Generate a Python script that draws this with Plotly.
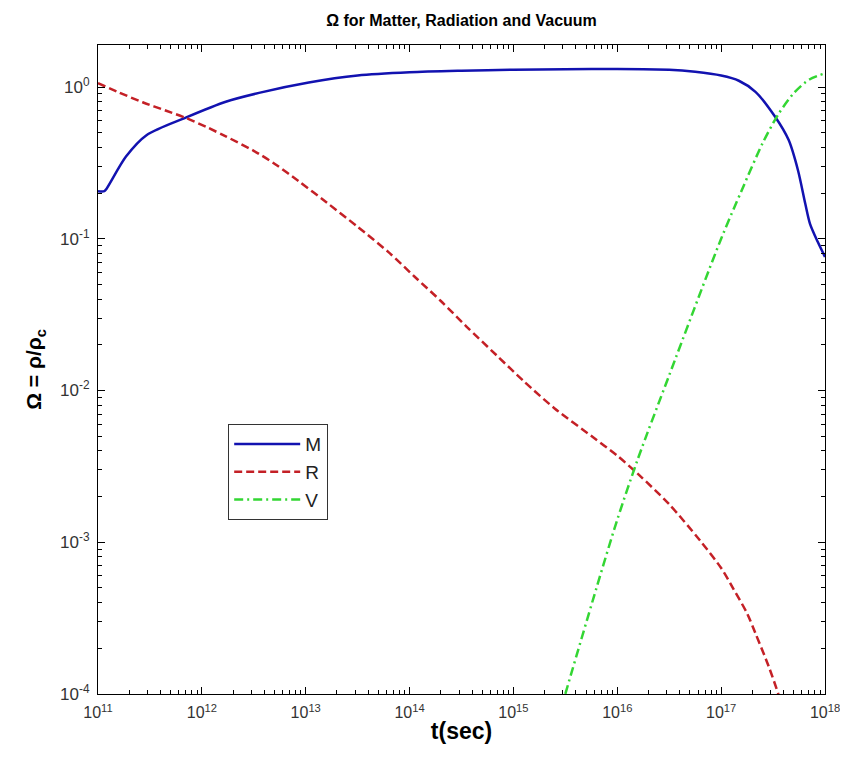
import plotly.graph_objects as go

# ---- data (t in seconds, Omega dimensionless) ----
t_M = [1.0e11, 1.15e11, 1.21e11, 1.86e11, 2.95e11, 7.08e11, 1.70e12, 3.55e12, 1.07e13,
       3.16e13, 1.0e14, 3.16e14, 1.0e15, 3.16e15, 1.0e16, 3.16e16, 5.62e16, 1.0e17,
       1.48e17, 2.14e17, 3.31e17, 4.47e17, 5.50e17, 6.46e17, 7.16e17, 8.51e17, 1.0e18]
omega_M = [0.206, 0.206, 0.214, 0.348, 0.483, 0.631, 0.80, 0.915, 1.07,
           1.19, 1.25, 1.28, 1.30, 1.31, 1.315, 1.30, 1.26, 1.19,
           1.10, 0.93, 0.637, 0.447, 0.282, 0.170, 0.126, 0.0955, 0.0759]

t_R = [1.0e11, 1.58e11, 2.69e11, 4.47e11, 7.08e11, 1.12e12, 1.70e12, 3.16e12, 5.13e12,
       8.51e12, 1.58e13, 3.16e13, 6.31e13, 1.12e14, 2.0e14, 3.55e14, 6.92e14, 1.26e15,
       2.51e15, 5.89e15, 1.0e16, 1.58e16, 3.16e16, 6.31e16, 1.0e17, 1.32e17, 1.78e17,
       2.14e17, 2.88e17, 3.55e17, 3.98e17]
omega_R = [1.059, 0.923, 0.794, 0.700, 0.624, 0.543, 0.473, 0.380, 0.309,
           0.240, 0.174, 0.120, 0.0813, 0.0562, 0.0389, 0.0263, 0.0170, 0.0115,
           0.00759, 0.00490, 0.00372, 0.00282, 0.00178, 0.00102, 0.000676, 0.00049, 0.000339,
           0.000251, 0.000151, 0.0001, 0.0000759]

t_V = [2.82e15, 3.16e15, 6.31e15, 1.0e16, 1.58e16, 3.16e16, 1.0e17, 1.58e17, 2.51e17,
       3.55e17, 5.01e17, 7.08e17, 1.0e18]
omega_V = [0.0000759, 0.0001, 0.000501, 0.00141, 0.00355, 0.0126, 0.1, 0.209, 0.427,
           0.661, 0.912, 1.122, 1.23]

x_tickvals = [1e11, 1e12, 1e13, 1e14, 1e15, 1e16, 1e17, 1e18]
x_ticktext = ["10<sup>11</sup>", "10<sup>12</sup>", "10<sup>13</sup>", "10<sup>14</sup>",
              "10<sup>15</sup>", "10<sup>16</sup>", "10<sup>17</sup>", "10<sup>18</sup>"]
y_tickvals = [1e-4, 1e-3, 1e-2, 1e-1, 1e0]
y_ticktext = ["10<sup>-4</sup>", "10<sup>-3</sup>", "10<sup>-2</sup>", "10<sup>-1</sup>", "10<sup>0</sup>"]

x_minor = [m * 10 ** e for e in range(11, 18) for m in range(2, 10)]
y_minor = [m * 10 ** e for e in range(-4, 1) for m in range(2, 10)]

FONT = "Arial, Liberation Sans, sans-serif"
X_RANGE = [11, 18]
Y_RANGE = [-4, 0.277]

# the page body adds an 8px offset, so the figure is 8px smaller on each axis
FIG_W, FIG_H = 840, 755

fig = go.Figure()
fig.add_trace(go.Scatter(x=t_M, y=omega_M, mode="lines", name="M",
                         line=dict(color="#1212b0", width=2.5, shape="spline", smoothing=0.8)))
fig.add_trace(go.Scatter(x=t_R, y=omega_R, mode="lines", name="R",
                         line=dict(color="#c42026", width=2.5, dash="8px,4px", shape="spline", smoothing=0.8)))
fig.add_trace(go.Scatter(x=t_V, y=omega_V, mode="lines", name="V",
                         line=dict(color="#33d633", width=2.5, dash="9px,4px,2px,4px", shape="spline", smoothing=0.8)))
# invisible anchor for the mirrored (top/right) tick axes
fig.add_trace(go.Scatter(x=[1e11], y=[1e-4], xaxis="x2", yaxis="y2", mode="markers",
                         marker=dict(opacity=0), showlegend=False, hoverinfo="skip"))

fig.update_layout(
    width=FIG_W, height=FIG_H,
    margin=dict(l=90, r=23, t=37, b=69),
    paper_bgcolor="white", plot_bgcolor="white",
    title=dict(text="<b>Ω for Matter, Radiation and Vacuum</b>", x=0.5, xref="paper",
               y=1 - 12 / FIG_H, yanchor="middle", font=dict(family=FONT, size=16, color="black")),
    xaxis=dict(type="log", range=X_RANGE, tickmode="array",
               tickvals=x_tickvals, ticktext=x_ticktext,
               showline=True, linecolor="black", linewidth=1.2, mirror=True,
               ticks="inside", ticklen=7, tickcolor="black", tickwidth=1,
               minor=dict(ticks="inside", ticklen=4, tickcolor="black", tickvals=x_minor),
               showgrid=False, zeroline=False, automargin=False,
               tickfont=dict(family=FONT, size=16, color="#333333"), ticklabelstandoff=4,
               ticklabeloverflow="allow",
               title=dict(text="<b>t(sec)</b>", font=dict(family=FONT, size=23, color="black"), standoff=2)),
    yaxis=dict(type="log", range=Y_RANGE, tickmode="array",
               tickvals=y_tickvals, ticktext=y_ticktext,
               showline=True, linecolor="black", linewidth=1.2, mirror=True,
               ticks="inside", ticklen=7, tickcolor="black", tickwidth=1,
               minor=dict(ticks="inside", ticklen=4, tickcolor="black", tickvals=y_minor),
               showgrid=False, zeroline=False, automargin=False,
               tickfont=dict(family=FONT, size=17, color="#333333"), ticklabelstandoff=4,
               title=dict(text="<b>Ω = ρ/ρ<sub>c</sub></b>", font=dict(family=FONT, size=21, color="black"), standoff=12)),
    xaxis2=dict(type="log", range=X_RANGE, overlaying="x", side="top", anchor="y",
                tickmode="array", tickvals=x_tickvals, showticklabels=False,
                ticks="inside", ticklen=7, tickcolor="black",
                minor=dict(ticks="inside", ticklen=4, tickcolor="black", tickvals=x_minor),
                showgrid=False, zeroline=False, showline=False, automargin=False),
    yaxis2=dict(type="log", range=Y_RANGE, overlaying="y", side="right", anchor="x",
                tickmode="array", tickvals=y_tickvals, showticklabels=False,
                ticks="inside", ticklen=7, tickcolor="black",
                minor=dict(ticks="inside", ticklen=4, tickcolor="black", tickvals=y_minor),
                showgrid=False, zeroline=False, showline=False, automargin=False),
    legend=dict(x=0.1788, y=0.416, xanchor="left", yanchor="top",
                bordercolor="#333333", borderwidth=1.2, bgcolor="white",
                font=dict(family=FONT, size=19, color="#222222"),
                itemwidth=66, tracegroupgap=0),
    showlegend=True,
)

fig.write_html("out.html")
